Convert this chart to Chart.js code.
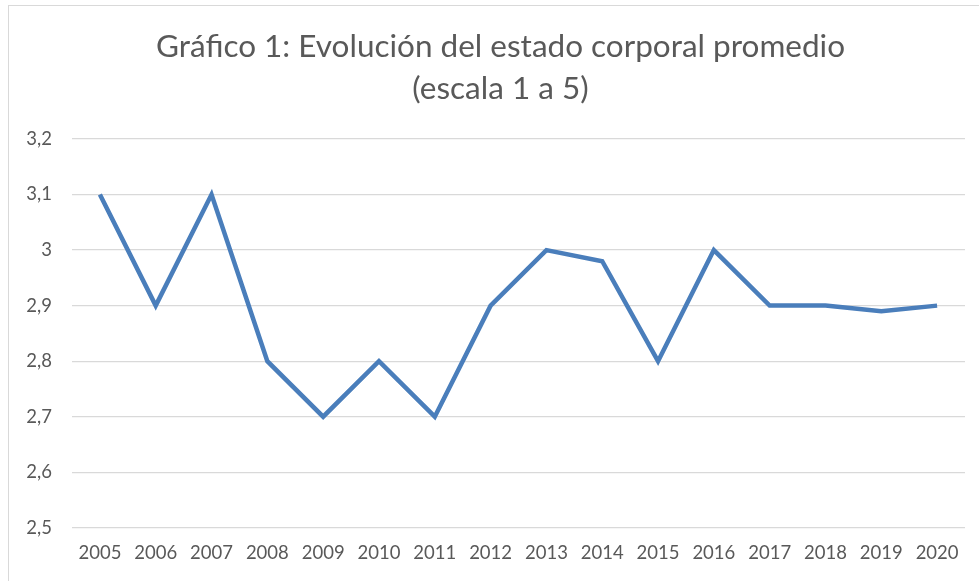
<!DOCTYPE html>
<html>
<head>
<meta charset="utf-8">
<script src="https://cdn.jsdelivr.net/npm/chart.js@4"></script>
<style>
html,body{margin:0;padding:0;background:#fff;}
#wrap{position:absolute;left:0;top:0;width:979px;height:581px;}
#frame{position:absolute;left:8px;top:5px;width:990px;height:600px;border:1.5px solid #d9d9d9;box-sizing:border-box;pointer-events:none;}
</style>
</head>
<body>
<div id="wrap"><canvas id="chart" width="979" height="581"></canvas></div>
<div id="frame"></div>
<script>
const years=["2005","2006","2007","2008","2009","2010","2011","2012","2013","2014","2015","2016","2017","2018","2019","2020"];
const estado=[3.1,2.9,3.1,2.8,2.7,2.8,2.7,2.9,3.0,2.98,2.8,3.0,2.9,2.9,2.89,2.9];
const titleLines=["Gráfico 1: Evolución del estado corporal promedio","(escala 1 a 5)"];

const ctx=document.getElementById("chart");

// the title in the original is centred on the wider Excel frame, so nudge it right
const shiftTitle={
id:"shiftTitle",
afterLayout(c){
if(c.titleBlock){c.titleBlock.left+=18;c.titleBlock.right+=18;}
}
};

new Chart(ctx,{
type:"line",
data:{
labels:years,
datasets:[{
data:estado,
borderColor:"#4a7ebb",
borderWidth:4.5,
pointRadius:0,
tension:0,
fill:false
}]
},
options:{
responsive:false,
animation:false,
layout:{padding:{left:0,right:14,top:0,bottom:3}},
plugins:{
legend:{display:false},
tooltip:{enabled:false},
title:{
display:true,
text:titleLines,
color:"#595959",
font:{family:"Lato",size:31.5,weight:"normal",lineHeight:1.333},
padding:{top:26,bottom:29}
}
},
scales:{
x:{
offset:true,
grid:{display:false,drawTicks:false},
border:{display:false},
ticks:{color:"#595959",font:{family:"Lato",size:18.5},padding:14,maxRotation:0,autoSkip:false}
},
y:{
min:2.5,
max:3.2,
afterFit:s=>{s.width=72;},
grid:{color:"#d9d9d9",lineWidth:1.3,drawTicks:false},
border:{display:false},
ticks:{
stepSize:0.1,
color:"#595959",
font:{family:"Lato",size:18.5},
padding:20,
callback:v=>String(Math.round(v*10)/10).replace(".",",")
}
}
}
},
plugins:[shiftTitle]
});
</script>
</body>
</html>
